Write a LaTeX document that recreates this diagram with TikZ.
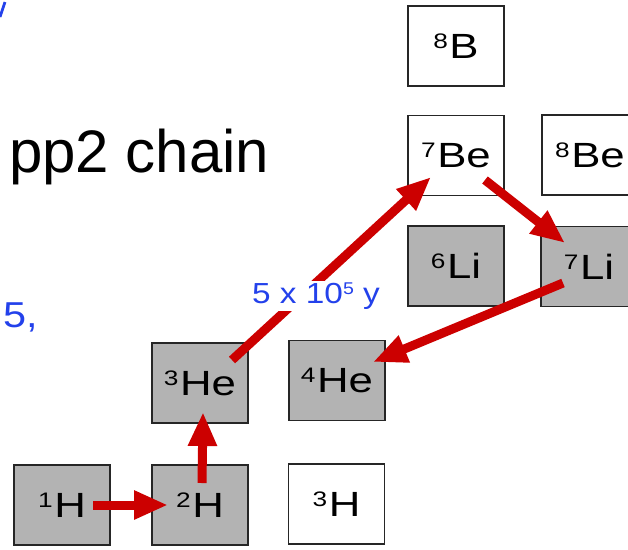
\documentclass[tikz,border=0pt]{standalone}
\usepackage{fontspec}
\setmainfont{Liberation Sans}
\newfontfamily\boxfont[FakeStretch=1.25]{Liberation Sans}
\newfontfamily\bluefont[FakeStretch=1.15]{Liberation Sans}
\usetikzlibrary{arrows.meta,calc}
\definecolor{arrowred}{RGB}{204,0,0}
\definecolor{labelblue}{RGB}{35,65,235}
\definecolor{boxgray}{RGB}{179,179,179}
\newcommand{\iso}[2]{\raisebox{10pt}{\fontsize{21pt}{21pt}\selectfont #1}\kern1.5pt #2}
\tikzset{
  isobox/.style={draw=black!85, line width=1.3pt, minimum width=96pt, minimum height=80pt,
    inner sep=0pt, font=\boxfont\fontsize{35pt}{40pt}\selectfont},
  stablebox/.style={isobox, fill=boxgray},
  openbox/.style={isobox, fill=white},
  flow/.style={draw=arrowred, line width=9pt, -{Triangle[length=34pt,width=27pt]}},
  bluetext/.style={text=labelblue, inner sep=0pt, font=\bluefont\fontsize{29pt}{34pt}\selectfont}
}
\begin{document}
\begin{tikzpicture}[x=1pt,y=-1pt]
\useasboundingbox (0,0) rectangle (628,549);
\clip (0,0) rectangle (628,549);
\fill[white] (0,0) rectangle (628,549);

% boxes
\node[openbox]   (B8)  at (456,46)    {\iso{8}{B}};
\node[openbox]   (Be7) at (456,155.5) {\iso{7}{Be}};
\node[openbox]   (Be8) at (590,155)   {\iso{8}{Be}};
\node[stablebox] (Li6) at (456,266)   {\iso{6}{Li}};
\node[stablebox] (Li7) at (589,266.5) {\iso{7}{Li}};
\node[stablebox] (He3) at (200,383)   {\iso{3}{He}};
\node[stablebox] (He4) at (337,380.5) {\iso{4}{He}};
\node[stablebox] (H1)  at (62,505)    {\iso{1}{H}};
\node[stablebox] (H2)  at (200,505)   {\iso{2}{H}};
\node[openbox]   (H3)  at (336.5,504) {\iso{3}{H}};

% texts
\node[anchor=base west, inner sep=0pt, font=\fontsize{60pt}{68pt}\selectfont] (title) at (9,172) {pp2 chain};
\node[bluetext, anchor=base west, font=\bluefont\fontsize{36pt}{40pt}\selectfont] (five) at (3,327) {5,};
\draw[labelblue, line width=2.7pt] (0,17) -- (5,2);

% arrows
\draw[flow] ($(H1.center)+(31,0)$) -- ($(H2.center)+(-32,0)$);
\draw[flow] ($(H2.center)+(2,-22)$) -- ($(He3.center)+(3,29)$);
\draw[flow] ($(He3.center)+(32,-23)$) -- ($(Be7.center)+(-25,21.5)$);
\draw[flow] ($(Be7.center)+(29,24.5)$) -- ($(Li7.center)+(-24,-23.5)$);
\draw[flow] ($(Li7.center)+(-26,16.5)$) -- ($(He4.center)+(36,-18.5)$);

% half-life label
\node[bluetext, anchor=base, fill=white, inner sep=1.5pt] (halflife) at (316,303)
  {5 x 10\raisebox{9pt}{\fontsize{17pt}{17pt}\selectfont 5} y};
\end{tikzpicture}
\end{document}
